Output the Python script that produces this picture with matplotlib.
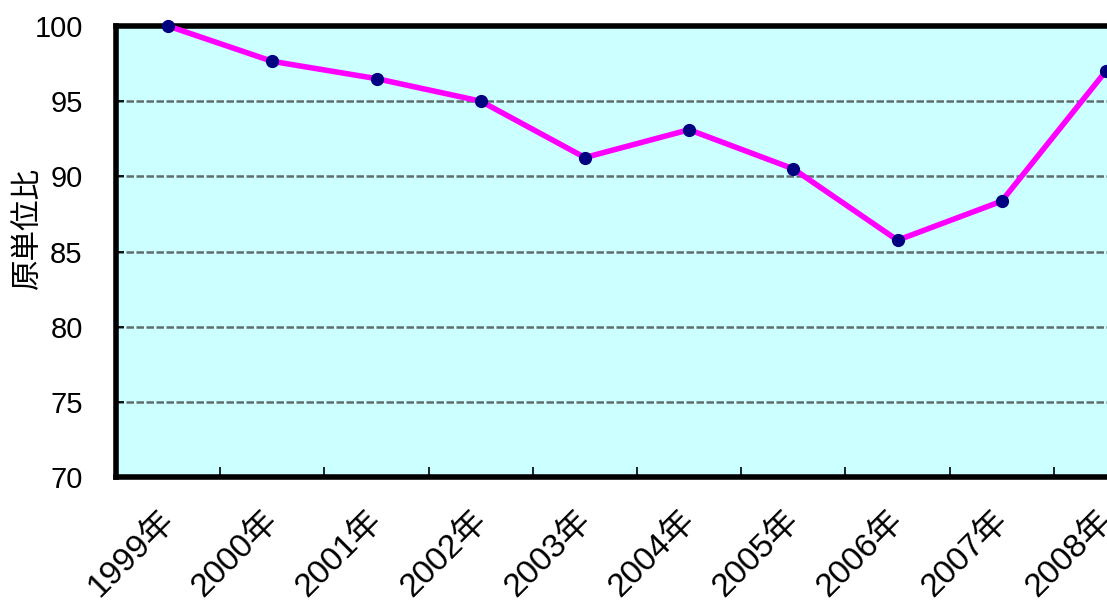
import matplotlib
matplotlib.use("Agg")
import matplotlib.pyplot as plt
import matplotlib.transforms as mtrans

# data
years = ["1999年", "2000年", "2001年", "2002年", "2003年",
         "2004年", "2005年", "2006年", "2007年", "2008年"]
ratio = [100.0, 97.65, 96.5, 95.0, 91.25, 93.1, 90.5, 85.75, 88.35, 97.0]
y_ticks = [70, 75, 80, 85, 90, 95, 100]

plt.rcParams['font.family'] = ['Liberation Sans', 'Noto Sans CJK JP', 'DejaVu Sans']

W, H = 1107, 607
fig = plt.figure(figsize=(W / 100, H / 100), dpi=100)
# plot area runs past the right edge of the picture, like the original
left, right, top, bottom = 116, 1158, 26, 477
ax = fig.add_axes([left / W, 1 - bottom / H, (right - left) / W, (bottom - top) / H])
ax.set_facecolor('#ccffff')

x = list(range(len(years)))
ax.plot(x, ratio, color='#ff00ff', lw=4, marker='o', ms=8.5,
        mfc='#000080', mec='#000080', zorder=3, clip_on=False)

ax.set_xlim(-0.5, len(years) - 0.5)
ax.set_ylim(70, 100)

ax.set_yticks(y_ticks)
ax.set_yticklabels([str(v) for v in y_ticks], fontsize=21)
ax.tick_params(axis='y', direction='in', length=6, width=1.2, pad=24, color='black')
for v in y_ticks[1:-1]:
    ax.axhline(v, color='#5f6f6f', lw=1.8, ls=(0, (3, 1)), zorder=1)

ax.set_xticks(x)
ax.set_xticklabels(years, fontsize=24, rotation=45, ha='right', va='top',
                   rotation_mode='anchor')
ax.tick_params(axis='x', which='major', length=0, pad=20)
shift = mtrans.ScaledTranslation(-10 / 100, 0, fig.dpi_scale_trans)
for lab in ax.get_xticklabels():
    lab.set_transform(lab.get_transform() + shift)
ax.set_xticks([i + 0.5 for i in x[:-1]], minor=True)
ax.tick_params(axis='x', which='minor', direction='in', length=7, width=1.2)

for s in ax.spines.values():
    s.set_linewidth(4)
    s.set_color('black')

fig.text(27 / W, 1 - 228 / H, "原単位比", rotation=90, fontsize=22,
         ha='center', va='center', family=['Noto Sans CJK JP'])

fig.savefig("out.png", dpi=100)
